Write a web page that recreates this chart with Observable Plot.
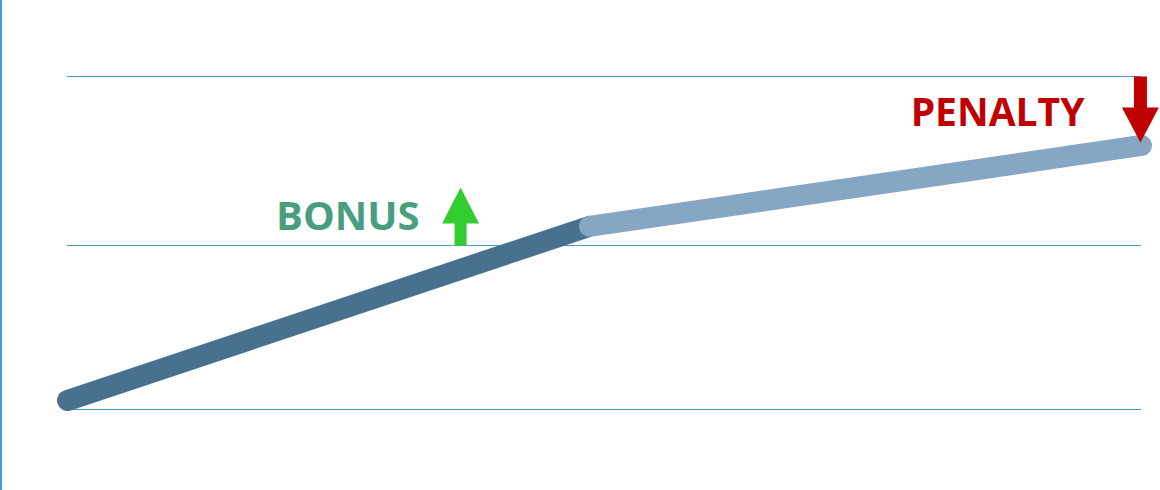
<!DOCTYPE html>
<html>
<head>
<meta charset="utf-8">
<script src="https://cdn.jsdelivr.net/npm/d3@7"></script>
<script src="https://cdn.jsdelivr.net/npm/@observablehq/plot@0.6"></script>
<style>
  html, body { margin: 0; padding: 0; background: #fff; }
  #wrap { position: relative; width: 1160px; height: 490px; overflow: hidden; }
  #edge { position: absolute; left: 0; top: 0; width: 2px; height: 490px; background: #3fa2cc; }
  svg { display: block; }
</style>
</head>
<body>
<div id="wrap"><div id="edge"></div></div>
<script>
// Data
const gridValues = [0, 49.25, 100];
const segmentBefore = [{x: 0, y: 2.7}, {x: 48.6, y: 55.0}];
const segmentAfter = [{x: 48.6, y: 55.0}, {x: 100, y: 79.3}];
const labels = [
  {text: "BONUS", x: 26.1, y: 57.7, kind: "bonus"},
  {text: "PENALTY", x: 86.6, y: 88.9, kind: "penalty"}
];
const arrows = [
  {x: 36.6, y: 49.25, kind: "bonus"},
  {x: 99.9, y: 100, kind: "penalty"}
];

function arrowSymbol(len, headH, headW, shaftW) {
  return {
    draw(ctx) {
      const hw = headW / 2, sw = shaftW / 2;
      ctx.moveTo(-sw, 0);
      ctx.lineTo(-sw, -(len - headH));
      ctx.lineTo(-hw, -(len - headH));
      ctx.lineTo(0, -len);
      ctx.lineTo(hw, -(len - headH));
      ctx.lineTo(sw, -(len - headH));
      ctx.lineTo(sw, 0);
      ctx.closePath();
    }
  };
}

const font = "'Open Sans', Lato, sans-serif";

const chart = Plot.plot({
  width: 1160,
  height: 490,
  margin: 0,
  x: {domain: [0, 100], range: [67, 1141], axis: null},
  y: {domain: [0, 100], range: [409, 76], axis: null},
  style: {background: "#ffffff"},
  marks: [
    Plot.ruleY(gridValues, {x1: 0, x2: 100, stroke: "#4a9cc4", strokeWidth: 1}),
    Plot.line(segmentBefore, {x: "x", y: "y", stroke: "#48708f", strokeWidth: 21, strokeLinecap: "round"}),
    Plot.line(segmentAfter, {x: "x", y: "y", stroke: "#86a6c3", strokeWidth: 21, strokeLinecap: "round"}),
    Plot.dot(arrows.filter(d => d.kind === "bonus"), {x: "x", y: "y", symbol: arrowSymbol(58, 36, 37, 12), fill: "#33cc33", stroke: "none"}),
    Plot.dot(arrows.filter(d => d.kind === "penalty"), {x: "x", y: "y", symbol: arrowSymbol(66, 35, 37, 13), fill: "#c00000", stroke: "none", rotate: 180}),
    Plot.text(labels.filter(d => d.kind === "bonus"), {x: "x", y: "y", text: "text", fill: "#4a9e80", fontSize: 40, fontWeight: "bold", fontFamily: font, textAnchor: "middle", lineAnchor: "middle"}),
    Plot.text(labels.filter(d => d.kind === "penalty"), {x: "x", y: "y", text: "text", fill: "#c00000", fontSize: 39, fontWeight: "bold", fontFamily: font, textAnchor: "middle", lineAnchor: "middle"})
  ]
});
document.getElementById("wrap").prepend(chart);
</script>
</body>
</html>
